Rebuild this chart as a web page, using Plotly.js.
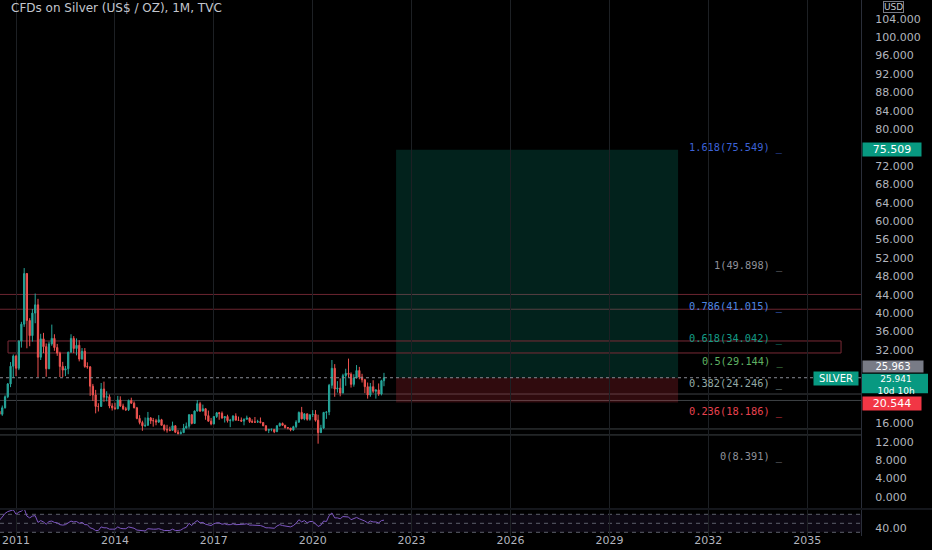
<!DOCTYPE html>
<html><head><meta charset="utf-8">
<script src="https://cdn.plot.ly/plotly-3.0.1.min.js"></script>
<style>html,body{margin:0;padding:0;background:#000;}#chart{width:932px;height:550px;}</style>
</head><body><div id="chart"></div>
<script>
// ---- data: monthly candles Jun 2010 .. Mar 2022 ----
const firstYear = 2010, firstMonth = 6;
const opens = [
18.30,18.65,18.00,19.40,21.80,24.60,28.45,
30.65,28.00,33.90,37.60,48.60,38.40,35.10,40.00,41.80,30.40,34.40,32.70,
27.90,33.30,34.50,32.50,31.30,28.40,27.60,27.90,31.50,34.50,32.30,33.00,
30.00,31.70,28.40,28.30,24.10,22.20,19.70,19.70,23.50,21.70,21.80,19.80,
19.40,19.20,21.10,19.80,19.20,19.00,21.00,20.40,19.40,17.10,16.20,15.50,
15.60,17.20,16.60,16.60,16.30,16.80,15.60,14.70,14.60,14.50,15.50,14.10,
13.80,14.00,15.00,15.40,17.90,16.00,18.70,20.30,18.70,19.20,17.70,16.50,
15.90,17.50,18.30,18.20,17.20,17.50,16.60,16.70,17.60,16.70,16.70,16.50,
16.90,17.20,16.40,16.30,16.30,16.40,16.20,15.50,14.50,14.70,14.70,14.20,
15.50,16.00,15.60,15.10,15.00,14.60,15.30,16.30,18.40,17.00,18.10,16.90,
17.90,18.00,16.70,14.00,15.00,18.40,18.50,24.30,28.00,23.50,23.70,22.60,
26.40,26.90,26.70,24.50,25.90,27.50,26.10,25.50,24.00,22.20,24.00,23.00,
23.30,22.40,25.30];
const highs = [
19.20,18.70,19.90,22.10,24.80,29.35,31.00,
30.95,34.10,38.10,49.80,48.70,38.90,40.90,44.25,43.10,35.50,35.70,33.40,
33.80,37.50,35.40,33.30,31.60,29.40,28.50,31.60,35.40,35.00,34.50,34.10,
32.40,32.40,29.30,28.50,24.60,23.30,20.40,24.80,25.10,23.00,22.30,20.40,
20.50,22.00,21.90,20.30,19.60,21.20,21.60,20.80,19.60,17.80,16.60,17.30,
18.50,17.40,17.20,17.00,17.80,17.00,15.80,15.70,15.30,16.40,15.60,14.60,
14.50,15.90,16.20,18.00,18.00,18.80,21.10,20.70,20.10,19.30,18.80,17.20,
17.60,18.50,18.50,18.60,17.50,17.90,17.00,17.80,18.20,17.50,17.30,17.10,
17.70,17.30,16.90,17.40,16.80,17.30,16.20,15.60,14.70,14.90,14.70,15.60,
16.20,16.20,15.70,15.20,15.00,15.50,16.70,18.60,19.60,18.20,18.10,17.90,
18.90,18.90,17.90,15.70,18.50,18.60,24.60,29.80,28.90,25.20,25.80,26.80,
27.90,30.10,27.10,26.70,28.70,28.30,26.80,25.70,24.90,24.80,25.40,23.40,
24.70,25.50,27.00];
const lows = [
17.80,17.35,17.65,19.25,21.50,23.90,25.90,
26.30,27.60,32.50,37.00,32.35,32.80,33.80,37.80,26.10,29.80,31.30,26.15,
27.80,32.90,31.80,30.70,26.10,26.10,26.30,26.70,31.40,31.30,30.80,29.50,
29.90,28.10,27.90,22.00,20.90,18.20,18.60,19.60,20.70,20.80,19.30,18.80,
19.00,19.10,19.60,18.90,18.70,18.70,20.30,19.30,16.90,15.80,14.40,15.20,
15.50,15.90,15.30,15.60,16.10,15.60,14.30,14.00,14.30,14.50,13.90,13.60,
13.60,13.90,14.90,14.90,15.80,15.90,18.60,18.50,18.60,16.80,16.40,15.60,
15.80,17.20,16.80,17.00,16.20,16.20,15.20,16.40,16.70,16.60,16.40,15.60,
16.90,16.10,16.10,16.10,16.10,16.00,15.40,14.30,13.90,14.30,13.90,14.20,
15.30,15.60,14.90,14.70,14.30,14.40,15.00,16.10,16.90,16.70,16.60,16.60,
17.40,16.40,11.60,14.00,14.80,17.00,17.80,23.60,21.80,22.70,21.90,22.60,
24.20,26.00,23.80,24.00,25.80,25.60,24.90,22.60,21.40,21.80,22.60,21.40,
22.00,22.10,24.10];
const closes = [
18.65,18.00,19.40,21.80,24.60,28.45,30.65,
28.00,33.90,37.60,48.60,38.40,35.10,40.00,41.80,30.40,34.40,32.70,27.90,
33.30,34.50,32.50,31.30,28.40,27.60,27.90,31.50,34.50,32.30,33.00,30.00,
31.70,28.40,28.30,24.10,22.20,19.70,19.70,23.50,21.70,21.80,19.80,19.40,
19.20,21.10,19.80,19.20,19.00,21.00,20.40,19.40,17.10,16.20,15.50,15.60,
17.20,16.60,16.60,16.30,16.80,15.60,14.70,14.60,14.50,15.50,14.10,13.80,
14.00,15.00,15.40,17.90,16.00,18.70,20.30,18.70,19.20,17.70,16.50,15.90,
17.50,18.30,18.20,17.20,17.50,16.60,16.70,17.60,16.70,16.70,16.50,16.90,
17.20,16.40,16.30,16.30,16.40,16.20,15.50,14.50,14.70,14.70,14.20,15.50,
16.00,15.60,15.10,15.00,14.60,15.30,16.30,18.40,17.00,18.10,16.90,17.90,
18.00,16.70,14.00,15.00,18.40,18.50,24.30,28.00,23.50,23.70,22.60,26.40,
26.90,26.70,24.50,25.90,27.50,26.10,25.50,24.00,22.20,24.00,23.00,23.30,
22.40,25.30,25.941];
const rsi = [
58,57,64,72,76,79,80,
70,75,77,83,66,62,66,67,52,56,53,48,
54,55,52,51,47,46,47,51,55,53,54,50,
52,47,47,40,38,34,34,42,40,40,37,37,
37,42,39,38,38,42,41,39,35,34,33,33,
38,37,37,37,38,36,34,34,34,37,34,34,
35,39,41,50,45,52,56,51,52,48,46,45,
49,51,51,48,49,47,47,49,47,47,47,48,
49,46,46,46,46,45,43,40,40,40,39,44,
47,45,44,43,42,45,50,58,53,56,51,54,
54,49,43,46,55,54,67,73,62,62,60,65,
65,64,58,60,63,60,58,55,51,55,53,53,
51,56,57];

// drawings
const redLevels = [44.06, 40.84];
const grayLevels = [22.4, 21.0, 14.8, 13.5];
const zoneLow = 31.33, zoneHigh = 33.94;
const zoneStart = '2010-10-04', zoneEnd = '2036-01-12';
const entryPrice = 25.963, targetPrice = 75.509, stopPrice = 20.544, lastPrice = 25.941;
const timeLeft = '10d 10h';
const posStart = '2022-07-13', posEnd = '2031-02-01';
const fibRatios = ['1.618','1','0.786','0.618','0.5','0.382','0.236','0'];
const fibValues = [75.549, 49.898, 41.015, 34.042, 29.144, 24.246, 18.186, 8.391];
const fibColors = ['#3d63d8','#8e9099','#4f86e0','#149c86','#5fb062','#93aaa6','#e8424f','#8e9099'];
const yTicks = [0,4,8,12,16,32,36,40,44,48,52,56,60,64,68,72,80,84,88,92,96,100,104,108];
const rsiLevels = [70, 50, 30];

const dates = [];
for (let i = 0; i < closes.length; i++) {
  const m = firstMonth - 1 + i;
  const y = firstYear + Math.floor(m / 12);
  const mm = (m % 12) + 1;
  dates.push(y + '-' + (mm < 10 ? '0' : '') + mm + '-01');
}

const UP = '#26a69a', DOWN = '#ef5350';
const FONT = 'DejaVu Sans';
const AX = '#b2b5be';

// layout geometry
const PLOT_W = 861, PLOT_H = 536;
const mainDomain = [0.05224, 1], mainRange = [-2.39, 108.1];
// value on main price axis -> paper fraction (plus a pixel offset, downwards positive)
function valToPaper(v, pxOffset) {
  const frac = (v - mainRange[0]) / (mainRange[1] - mainRange[0]);
  return mainDomain[0] + frac * (mainDomain[1] - mainDomain[0]) - (pxOffset || 0) / PLOT_H;
}

const traces = [
  {type:'candlestick', x:dates, open:opens, high:highs, low:lows, close:closes,
   xaxis:'x', yaxis:'y',
   increasing:{line:{color:UP,width:1}, fillcolor:UP},
   decreasing:{line:{color:DOWN,width:1}, fillcolor:DOWN},
   whiskerwidth:0, hoverinfo:'skip', showlegend:false},
  {type:'scatter', mode:'lines', x:dates, y:rsi, xaxis:'x', yaxis:'y2',
   line:{color:'#7e57c2', width:1}, hoverinfo:'skip', showlegend:false}
];

const shapes = [];
// RSI band
shapes.push({type:'rect', xref:'paper', yref:'y2', x0:0, x1:1, y0:30, y1:70,
  fillcolor:'rgba(126,87,194,0.10)', line:{width:0}, layer:'below'});
rsiLevels.forEach(v => shapes.push({type:'line', xref:'paper', yref:'y2', x0:0, x1:1, y0:v, y1:v,
  line:{color:'#5d606b', width:1, dash:'4px,4px'}, layer:'below'}));
// pane separator
shapes.push({type:'line', xref:'paper', yref:'paper', x0:0, x1:1.1, y0:0.0504, y1:0.0504,
  line:{color:'#2a2e39', width:1}});
// long position tool
shapes.push({type:'rect', xref:'x', yref:'y', x0:posStart, x1:posEnd, y0:entryPrice, y1:targetPrice,
  fillcolor:'rgba(8,153,129,0.22)', line:{width:0}, layer:'below'});
shapes.push({type:'rect', xref:'x', yref:'y', x0:posStart, x1:posEnd, y0:stopPrice, y1:entryPrice,
  fillcolor:'rgba(242,54,69,0.20)', line:{width:0}, layer:'below'});
// red levels
redLevels.forEach(v => shapes.push({type:'line', xref:'paper', yref:'y', x0:0, x1:1, y0:v, y1:v,
  line:{color:'#6b2530', width:1}, layer:'below'}));
// gray levels
grayLevels.forEach(v => shapes.push({type:'line', xref:'paper', yref:'y', x0:0, x1:1, y0:v, y1:v,
  line:{color:'#3e4246', width:1}, layer:'below'}));
// zone rectangle
shapes.push({type:'rect', xref:'x', yref:'y', x0:zoneStart, x1:zoneEnd, y0:zoneLow, y1:zoneHigh,
  fillcolor:'rgba(0,0,0,0)', line:{color:'#7a2a36', width:1}, layer:'below'});
// last price dotted line
shapes.push({type:'line', xref:'paper', yref:'y', x0:0, x1:1, y0:lastPrice, y1:lastPrice,
  line:{color:'#8a8d96', width:1, dash:'dot'}});
// last price axis box (two lines)
shapes.push({type:'rect', xref:'paper', yref:'paper', x0:862/PLOT_W, x1:928/PLOT_W,
  y0:valToPaper(lastPrice, 15.5), y1:valToPaper(lastPrice, -4),
  fillcolor:'#089981', line:{width:0}, layer:'above'});

const annotations = [];
annotations.push({xref:'paper', yref:'paper', x:0.0105, y:0.985, xanchor:'left', yanchor:'middle',
  text:'CFDs on Silver (US$ / OZ), 1M, TVC', showarrow:false,
  font:{family:FONT, size:12, color:'#c3c6ce'}});
fibRatios.forEach((r, i) => annotations.push({xref:'paper', yref:'y', x:785/PLOT_W, y:fibValues[i],
  yshift:2, xanchor:'right', yanchor:'middle', showarrow:false,
  text:r + '(' + fibValues[i].toFixed(3) + ') _',
  font:{family:'DejaVu Sans Mono', size:10.3, color:fibColors[i]}}));
function priceBox(val, txt, bg, shift, w, size) {
  annotations.push({xref:'paper', yref:'y', x:862/PLOT_W, y:val, yshift:shift, xanchor:'left', yanchor:'middle',
    text:txt, showarrow:false, bgcolor:bg, width:w, align:'center', borderpad:0,
    font:{family:FONT, size:size, color:'#ffffff'}});
}
priceBox(targetPrice, targetPrice.toFixed(3), '#089981', 0, 58, 11);
priceBox(lastPrice, lastPrice.toFixed(3) + '<br>' + timeLeft, 'rgba(0,0,0,0)', -7.5, 66, 9);
priceBox(entryPrice, entryPrice.toFixed(3), '#787b86', 11, 60, 10);
priceBox(stopPrice, stopPrice.toFixed(3), '#f23645', -1, 58, 11);
annotations.push({xref:'paper', yref:'y', x:859/PLOT_W, y:lastPrice, yshift:-1, xanchor:'right', yanchor:'middle',
  text:'SILVER', showarrow:false, bgcolor:'#089981', borderpad:1, width:42,
  font:{family:FONT, size:10, color:'#ffffff'}});
annotations.push({xref:'paper', yref:'paper', x:894/PLOT_W, y:1 - 7/PLOT_H, xanchor:'center', yanchor:'middle',
  text:'USD', showarrow:false, bgcolor:'#000000', bordercolor:'#787b86', borderwidth:1, borderpad:0,
  font:{family:FONT, size:9, color:'#c3c6ce'}});

const layout = {
  width:932, height:550,
  margin:{l:0, r:71, t:0, b:14},
  paper_bgcolor:'#000000', plot_bgcolor:'#000000',
  showlegend:false, dragmode:false, hovermode:false,
  xaxis:{type:'date', anchor:'y2', range:['2010-07-07','2036-08-20'],
    tick0:'2011-01-01', dtick:'M36', tickformat:'%Y', ticks:'', ticklabelstandoff:-4,
    showgrid:true, gridcolor:'#1d2024', gridwidth:1, zeroline:false, showline:false,
    rangeslider:{visible:false}, tickfont:{family:FONT, size:11, color:AX}},
  yaxis:{domain:mainDomain, range:mainRange, side:'right', anchor:'x',
    tickvals:yTicks, ticktext:yTicks.map(v => v.toFixed(3)), ticks:'', ticklabelstandoff:11,
    showgrid:false, zeroline:false, showline:true, linecolor:'#2a2e39',
    tickfont:{family:FONT, size:11, color:AX}},
  yaxis2:{domain:[0,0.04851], range:[21.8,79.56], side:'right', anchor:'x',
    tickvals:[40], ticktext:['40.00'], ticks:'', ticklabelstandoff:11,
    showgrid:false, zeroline:false, showline:true, linecolor:'#2a2e39',
    tickfont:{family:FONT, size:11, color:AX}},
  shapes:shapes, annotations:annotations
};

Plotly.newPlot('chart', traces, layout, {staticPlot:true, displayModeBar:false});
</script>
</body></html>
